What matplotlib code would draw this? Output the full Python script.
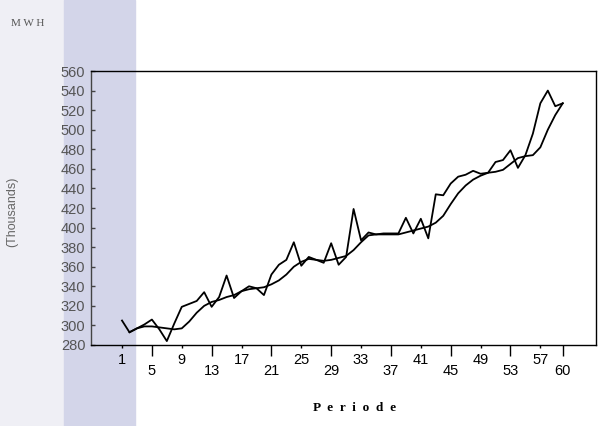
import matplotlib
matplotlib.use("Agg")
import matplotlib.pyplot as plt
from matplotlib.patches import Rectangle
from matplotlib.ticker import FixedLocator, FixedFormatter

# periode 1..60
periode = list(range(1, 61))
aktual = [305, 293, 297, 301, 306, 296, 284, 302, 319, 322,
          325, 334, 319, 329, 351, 328, 335, 340, 338, 331,
          352, 362, 367, 385, 361, 370, 367, 364, 384, 362,
          370, 419, 387, 395, 393, 394, 394, 394, 410, 394,
          409, 389, 434, 433, 445, 452, 454, 458, 455, 456,
          467, 469, 479, 461, 474, 496, 527, 540, 524, 527]

# garis pemulusan mulai periode 2
periode_smooth = list(range(2, 61))
pemulusan = [293, 297, 299, 299, 298, 297, 296, 297, 304,
             313, 320, 324, 326, 329, 331, 335, 337, 338, 339,
             342, 346, 352, 360, 365, 368, 367, 366, 367, 369,
             371, 377, 385, 392, 393, 393, 393, 393, 395, 397,
             399, 401, 405, 412, 424, 435, 443, 449, 453, 456,
             457, 459, 465, 471, 473, 474, 482, 500, 515, 527]

tick_atas = [1, 9, 17, 25, 33, 41, 49, 57]
tick_bawah = [5, 13, 21, 29, 37, 45, 53, 60]
y_ticks = list(range(280, 561, 20))

fig = plt.figure(figsize=(6.01, 4.26), dpi=100)

# latar hasil scan
fig.patches.append(Rectangle((0, 0), 64 / 601, 1, transform=fig.transFigure,
                             color="#efeff5", zorder=-5))
fig.patches.append(Rectangle((64 / 601, 0), 71 / 601, 1, transform=fig.transFigure,
                             color="#d3d5e9", zorder=-5))

ax = fig.add_axes([91 / 601, 81 / 426, 505 / 601, 274 / 426])
ax.set_zorder(2)
ax.patch.set_alpha(0)

ax.plot(periode, aktual, color="black", lw=1.3)
ax.plot(periode_smooth, pemulusan, color="black", lw=1.3)

ax.set_xlim(-3.15, 64.45)
ax.set_ylim(280, 560)

ax.set_yticks(y_ticks)
ax.set_yticklabels([str(v) for v in y_ticks], family="Liberation Sans",
                   fontsize=10.5, color="#555555")
ax.tick_params(axis="y", direction="in", length=3, width=1, pad=4, color="#444444")

ax.xaxis.set_major_locator(FixedLocator(tick_bawah))
ax.xaxis.set_major_formatter(FixedFormatter([str(t) for t in tick_bawah]))
ax.xaxis.set_minor_locator(FixedLocator(tick_atas))
ax.xaxis.set_minor_formatter(FixedFormatter([str(t) for t in tick_atas]))
ax.tick_params(axis="x", which="major", direction="out", length=8, width=1, pad=6)
ax.tick_params(axis="x", which="minor", direction="out", length=2.5, width=1, pad=3.5)
for lbl in ax.get_xticklabels(which="both"):
    lbl.set_family("Liberation Sans")
    lbl.set_fontsize(10.5)

for s in ax.spines.values():
    s.set_linewidth(1)
ax.spines["left"].set_color("#444444")

fig.text(12 / 601, 1 - 212 / 426, "(Thousands)", rotation=90, ha="center", va="center",
         family="Liberation Sans", fontsize=9, color="#666666")
fig.text(11 / 601, 1 - 23 / 426, "M W H", ha="left", va="center",
         family="Liberation Serif", fontsize=8, color="#555555")
fig.text(355 / 601, 1 - 408 / 426, "P  e  r  i  o  d  e", ha="center", va="center",
         family="Liberation Serif", fontsize=9.5, fontweight="bold")

fig.savefig("out.png", dpi=100)
